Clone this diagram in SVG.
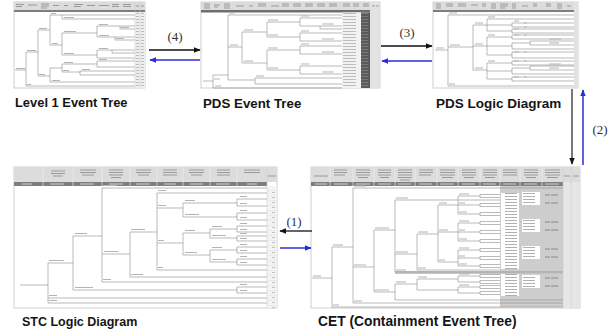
<svg xmlns="http://www.w3.org/2000/svg" width="613" height="332" viewBox="0 0 613 332">
<style>
.pf{fill:#fff;stroke:#c4c4c4;stroke-width:0.8}
.hd{fill:#dcdcdc}
.db{fill:#7e7e7e}
.tr{fill:none;stroke:#8c8c8c;stroke-width:0.6}
.tx{fill:none;stroke:#b4b4b4;stroke-width:1.2}
.ht{fill:none;stroke:#9a9a9a;stroke-width:1}
.bt{fill:none;stroke:#cfcfcf;stroke-width:1}
.sep{fill:none;stroke:#f4f4f4;stroke-width:0.6}
.gl{fill:none;stroke:#c8c8c8;stroke-width:0.5}
.cap{font-family:"Liberation Sans",Arial,sans-serif;font-weight:bold;fill:#151515}
.num{font-family:"Liberation Serif","Times New Roman",serif;font-size:13px;fill:#333;text-anchor:middle}
.ak{stroke:#111;stroke-width:1.3;fill:none}
.ag{stroke:#555;stroke-width:1.6;fill:none}
.ab{stroke:#2b2bd6;stroke-width:1.5;fill:none}
</style>
<defs>
<marker id="hk" viewBox="0 0 10 10" refX="9" refY="5" markerUnits="userSpaceOnUse" markerWidth="7" markerHeight="7" orient="auto"><path d="M0 1L10 5L0 9z" fill="#111"/></marker>
<marker id="hb" viewBox="0 0 10 10" refX="9" refY="5" markerUnits="userSpaceOnUse" markerWidth="7" markerHeight="7" orient="auto"><path d="M0 1L10 5L0 9z" fill="#2b2bd6"/></marker>
<pattern id="rowsA" width="10" height="3" patternUnits="userSpaceOnUse"><path d="M1 1.5h3M6 1.5h3" stroke="#aaa" stroke-width="0.7"/></pattern>
<pattern id="rowsB" width="19" height="3" patternUnits="userSpaceOnUse"><path d="M1 1.5h13" stroke="#b0b0b0" stroke-width="0.8"/></pattern>
<pattern id="rowsD" width="9" height="3" patternUnits="userSpaceOnUse"><path d="M1 1.5h7" stroke="#808080" stroke-width="0.8"/></pattern>
<pattern id="rowsS" width="10" height="5" patternUnits="userSpaceOnUse"><path d="M0 0H10" stroke="#cfcfcf" stroke-width="0.5"/><path d="M2 2.5h3" stroke="#aaa" stroke-width="0.7"/></pattern>
<pattern id="rowsC" width="18" height="3" patternUnits="userSpaceOnUse"><path d="M1 1.5h12" stroke="#9d9d9d" stroke-width="0.8"/></pattern>
</defs>

<g id="level1-event-tree">
<rect class="pf" x="14" y="2" width="131" height="86"/>
<rect class="hd" x="14" y="2" width="131" height="8"/>
<rect class="db" x="14" y="10" width="131" height="2"/>
<rect x="135" y="12" width="10" height="76" fill="#efefef"/>
<rect x="135" y="13" width="10" height="74" fill="url(#rowsA)"/>
<path class="gl" d="M135 2V88M140 2V88"/>
<path class="ht" d="M16 4.5h8M16 6.5h6M28 5h9M41 4h8M41 6h8M41 8h6M53 5.5h6M64 5.5h4M74 4.5h9M74 6.5h7M87 5.5h8M99 5.5h10M112 4.5h7M112 6.5h7M123 4.5h8M123 6.5h8M136 6h3M141 6h3"/>
<path class="tr" d="M15 70H26M26 52V86M26 86H135M26 52H38M38 30V76M38 30H50M50 15V45M50 15H135M62 15V19M62 19H135M50 45H62M62 33V55M62 33H97M97 26V37M97 26H135M120 26V29M120 29H135M97 37H135M115 37V40M115 40H135M62 55H97M97 50V58M97 50H135M97 58H135M112 50V53M112 53H135M38 76H50M50 68V82M50 82H135M50 68H62M62 64V72M62 64H97M97 61V67M97 61H135M97 67H135M62 72H80M80 71V75M80 71H135M80 75H135"/>
<path class="tx" d="M16 68.5h9M51 13.5h5M64 17.5h10M52 43.5h6M64 31.5h12M99 24.5h9M99 35.5h10M64 53.5h10M99 48.5h9M39 74.5h6M27 84.5h4M64 62.5h9M99 59.5h8M82 69.5h8M52 80.5h8M27 50.5h9M39 28.5h8M63 70.5h6M121 27.5h8M116 38.5h8"/>
<text class="cap" x="15" y="107" font-size="12.9">Level 1 Event Tree</text>
</g>

<g id="pds-event-tree">
<rect class="pf" x="201" y="2" width="179" height="86"/>
<rect class="hd" x="201" y="2" width="179" height="8"/>
<rect x="201" y="10" width="179" height="2.5" fill="#6e6e6e"/>
<rect x="342" y="12.5" width="19" height="75.5" fill="#f2f2f2"/>
<rect x="342" y="13" width="19" height="75" fill="url(#rowsB)"/>
<rect x="361" y="12.5" width="9" height="75.5" fill="#5a5a5a"/>
<rect x="361" y="13" width="9" height="75" fill="url(#rowsD)"/>
<rect x="370" y="2" width="10" height="86" fill="#e2e2e2"/>
<path class="ht" d="M204 4h6M204 6h6M204 8h6M214 5h6M214 7h4M224 4h6M224 6h6M224 8h6M236 6h8M249 6h4M258 4h8M258 6h8M271 6h8M282 4h7M282 6h7M293 4h8M293 6h8M305 4h8M305 6h8M317 4h8M317 6h8M329 4h8M329 6h8M343 4h7M343 6h7M353 4h6M353 6h6M363 4h6M363 6h6M372 6h3M376 6h3"/>
<path class="tr" d="M203 81H213M213 75V88M213 88H342M213 75H228M228 15V80M228 15H342M228 47H242M242 32V63M242 32H267M267 22V37M267 22H300M300 18V26M300 18H342M300 26H342M320 26V29M320 29H342M267 37H300M300 33V41M300 33H342M300 41H342M242 63H267M267 50V70M267 50H300M300 46V54M300 46H342M300 54H342M267 70H300M300 66V74M300 66H342M300 74H342M228 80H255M255 78V84M255 78H342M255 84H342"/>
<path class="tx" d="M214 79h6M229 13h6M230 45h8M244 30h9M244 61h9M268 20h10M268 35h10M268 48h10M268 68h10M301 16h8M301 31h8M301 44h8M301 64h8M322 24h12M322 39h12M322 52h12M322 72h12M256 76h8M215 86h6"/>
<text class="cap" x="203" y="107.5" font-size="13.3">PDS Event Tree</text>
</g>

<g id="pds-logic-diagram">
<rect class="pf" x="433" y="2" width="145" height="86"/>
<rect class="hd" x="433" y="2" width="145" height="8"/>
<rect class="db" x="433" y="10" width="145" height="2"/>
<rect x="574" y="2" width="4" height="86" fill="#e2e2e2"/>
<path class="ht" d="M436 4h5M436 6h5M436 8h5M446 4h7M446 6h7M458 4h8M458 6h8M471 5h7M482 4h4M482 6h4M491 4h5M491 6h5M491 8h5M500 4h8M500 6h8M500 8h5M512 4h4M512 6h4M512 8h4M522 6h6M533 4h4M533 6h4M546 4h5M546 6h5M557 4h5M557 6h5M557 8h5M567 6h4"/>
<path class="tr" d="M435 50H448M448 15V86M448 15H574M448 86H574M448 47H473M473 25V70M473 25H487M487 19V31M487 19H574M487 25H512M487 31H512M512 23V27M512 23H574M512 27H574M512 29V33M512 29H574M512 33H574M473 46H487M487 37V55M487 37H512M512 35V39M512 35H574M512 39H574M487 46H512M512 43V49M512 43H530M530 41V45M530 41H574M530 45H574M512 49H574M487 55H512M512 52V58M512 52H574M512 58H574M473 70H487M487 63V79M487 63H512M512 61V65M512 61H574M512 65H574M487 71H512M512 68V74M512 68H530M530 66V70M530 66H574M530 70H574M512 74H574M487 79H512M512 77V81M512 77H574M512 81H574"/>
<path class="tx" d="M436 48h8M449 13h8M450 45h10M475 23h8M475 44h8M475 68h8M488 17h7M488 35h7M488 61h7M514 21h5M514 29h5M514 35h5M514 52h5M514 61h5M514 77h5M549 39h12M549 43h10M549 64h12M549 68h10M449 84h6M524 23h3M524 27h3M524 35h3M524 52h3M524 61h3M524 77h3"/>
<text class="cap" x="436" y="108" font-size="13.5">PDS Logic Diagram</text>
</g>

<g id="stc-logic-diagram">
<rect class="pf" x="14" y="167" width="263" height="141"/>
<rect class="hd" x="14" y="167" width="263" height="15"/>
<rect class="db" x="14" y="182" width="253" height="4"/>
<rect x="267" y="186" width="10" height="122" fill="#f3f3f3"/>
<rect x="267" y="188" width="10" height="120" fill="url(#rowsS)"/>
<path class="sep" d="M43 167V186M73 167V186M102 167V186M130 167V186M157 167V186M183 167V186M210 167V186M237 167V186"/>
<path class="gl" d="M267 167V308"/>
<path class="ht" d="M51 171h14M51 173.5h14M53 176h10M80 170h16M80 172.5h16M82 175h12M109 170h14M109 172.5h14M109 175h14M111 177.5h10M136 170h15M136 172.5h15M138 175h11M163 170h14M163 172.5h14M163 175h14M189 170h15M189 172.5h15M191 175h11M217 170h13M217 172.5h13M217 175h13M244 170h16M244 172.5h16M268 176h8"/>
<path class="bt" d="M22 184h10M50 184h14M80 184h14M109 184h14M136 184h14M164 184h12M190 184h13M216 184h14M247 184h10"/>
<path class="tr" d="M20 285H48M48 263V303M48 298H267M48 303H267M48 263H73M73 236V290M73 290H237M237 287V293M237 287H267M237 293H267M73 236H102M102 188V282M102 188H267M102 282H267M102 254H130M130 232V277M130 277H267M130 232H157M157 193V270M157 193H267M157 270H267M157 208H183M183 203V217M183 203H237M237 199V206M237 199H267M237 206H267M183 217H237M237 213V220M237 213H267M237 220H267M157 243H183M183 233V255M183 233H210M210 229V238M210 229H237M237 226V232M237 226H267M237 232H267M210 238H237M237 236V241M237 236H267M237 241H267M183 255H210M210 250V262M210 250H237M237 247V253M237 247H267M237 253H267M210 262H237M237 259V265M237 259H267M237 265H267"/>
<path class="tx" d="M49 260.5h15M75 233.5h12M75 287.5h18M49 295.5h8M49 300.5h8M103 185.5h14M104 251.5h14M103 279.5h8M131 229.5h14M131 274.5h12M158 190.5h8M158 205.5h8M158 240.5h6M158 267.5h5M185 200.5h10M185 214.5h14M185 230.5h10M185 252.5h12M212 226.5h10M212 235.5h14M212 247.5h10M212 259.5h14M240 196.5h7M240 203.5h7M240 210.5h7M240 217.5h7M240 223.5h7M240 229.5h7M240 233.5h7M240 238.5h7M240 244.5h7M240 250.5h7M240 256.5h7M240 262.5h7M240 284.5h7M240 290.5h7"/>
<text class="cap" x="22" y="326" font-size="12.5">STC Logic Diagram</text>
</g>

<g id="cet">
<rect class="pf" x="311" y="167" width="269" height="141"/>
<rect class="hd" x="311" y="167" width="269" height="15"/>
<rect class="db" x="311" y="182" width="252" height="4"/>
<rect x="500" y="186" width="63" height="121" fill="#cdcdcd"/>
<rect x="563" y="182" width="17" height="126" fill="#e6e6e6"/>
<rect x="395" y="271" width="168" height="3" fill="#c6c6c6"/>
<path class="sep" d="M330 167V186M353 167V186M374 167V186M395 167V186M415 167V186M437 167V186M458 167V186M480 167V186M500 167V186M520 167V186M542 167V186"/>
<path class="gl" d="M563 167V308M571 167V308"/>
<path class="ht" d="M314 176h14M334 170h13M334 172.5h13M334 175h11M356 170h14M356 172.5h14M356 175h14M358 177.5h10M378 170h13M378 172.5h13M378 175h13M380 177.5h9M398 170h14M398 172.5h14M398 175h14M398 177.5h14M400 180h10M419 170h14M419 172.5h14M419 175h12M440 170h15M440 172.5h15M440 175h15M442 177.5h11M462 170h14M462 172.5h14M462 175h14M464 177.5h10M483 170h14M483 172.5h14M483 175h14M485 177.5h10M503 170h14M503 172.5h14M503 175h14M524 170h14M524 172.5h14M524 175h14M526 177.5h10M545 170h15M545 172.5h15M545 175h15M547 177.5h11M564 176h6M573 176h6"/>
<path class="bt" d="M315 184h12M334 184h14M356 184h14M378 184h13M398 184h13M419 184h13M440 184h14M462 184h13M483 184h13M503 184h13M524 184h13M545 184h14"/>
<rect x="501" y="193" width="18" height="76" fill="#fff"/>
<rect x="501" y="193" width="18" height="76" fill="url(#rowsC)"/>
<rect x="501" y="274" width="18" height="22" fill="#fff"/>
<rect x="501" y="274" width="18" height="22" fill="url(#rowsC)"/>
<rect x="522" y="192" width="18" height="13" fill="#fff"/>
<rect x="522" y="219" width="18" height="13" fill="#fff"/>
<rect x="522" y="246" width="18" height="13" fill="#fff"/>
<rect x="522" y="275" width="18" height="13" fill="#fff"/>
<rect x="522" y="192" width="18" height="13" fill="url(#rowsC)"/>
<rect x="522" y="219" width="18" height="13" fill="url(#rowsC)"/>
<rect x="522" y="246" width="18" height="13" fill="url(#rowsC)"/>
<rect x="522" y="275" width="18" height="13" fill="url(#rowsC)"/>
<path d="M545 195h5M551 195h7M545 203h5M551 203h7M545 222h5M551 222h7M545 230h5M551 230h7M545 249h5M551 249h7M545 257h5M551 257h7M545 278h5M551 278h7M545 286h5M551 286h7" stroke="#8a8a8a" stroke-width="1.1" fill="none"/>
<path class="tr" d="M312 278H332M332 247V307M332 247H353M332 307H563M353 188V303M353 188H563M353 267H374M353 303H563M374 230V292M374 230H395M374 292H395M395 200V272M395 200H500M395 254H417M395 272H563M395 284V300M395 284H417M395 300H563M417 234V270M417 234H438M417 270H500M438 205V262M438 205H458M438 232H458M438 262H458M458 196V214M458 196H480M458 205H480M458 214H480M458 223V241M458 223H480M458 232H480M458 241H480M458 250V266M458 250H480M458 258H480M458 266H480M417 279V290M417 279H458M417 290H458M458 276V282M458 276H480M458 282H480M458 287V293M458 287H480M458 293H480M480 194.5V197.5M480 194.5H500M480 197.5H500M480 203.5V206.5M480 203.5H500M480 206.5H500M480 212.5V215.5M480 212.5H500M480 215.5H500M480 221.5V224.5M480 221.5H500M480 224.5H500M480 230.5V233.5M480 230.5H500M480 233.5H500M480 239.5V242.5M480 239.5H500M480 242.5H500M480 248.5V251.5M480 248.5H500M480 251.5H500M480 256.5V259.5M480 256.5H500M480 259.5H500M480 264.5V267.5M480 264.5H500M480 267.5H500M480 274.5V277.5M480 274.5H500M480 277.5H500M480 280.5V283.5M480 280.5H500M480 283.5H500M480 285.5V288.5M480 285.5H500M480 288.5H500M480 291.5V294.5M480 291.5H500M480 294.5H500"/>
<path class="tx" d="M333 245h10M313 276h8M354 186h12M354 265h12M354 301h8M333 305h6M375 228h14M375 290h14M396 198h12M396 252h12M396 270h10M396 282h10M418 232h10M418 268h8M418 277h9M439 203h8M439 230h9M439 260h6M459 194h10M459 203h6M459 212h8M459 221h10M459 230h6M459 239h8M459 248h10M459 256h6M459 264h8M459 274h10M459 285h10"/>
<text class="cap" x="318" y="326" font-size="13.8">CET (Containment Event Tree)</text>
</g>

<g id="connectors">
<line class="ak" x1="149" y1="50" x2="200" y2="50" marker-end="url(#hk)"/>
<line class="ab" x1="200" y1="60" x2="150" y2="60" marker-end="url(#hb)"/>
<text class="num" x="175" y="41">(4)</text>
<line class="ak" x1="381" y1="46" x2="432" y2="46" marker-end="url(#hk)"/>
<line class="ab" x1="432" y1="61" x2="382" y2="61" marker-end="url(#hb)"/>
<text class="num" x="407" y="37">(3)</text>
<line class="ag" x1="572" y1="89" x2="572" y2="164" marker-end="url(#hk)"/>
<line class="ab" x1="583" y1="165" x2="583" y2="90" marker-end="url(#hb)"/>
<text class="num" x="600" y="134">(2)</text>
<line class="ak" x1="312" y1="231" x2="280" y2="231" marker-end="url(#hk)"/>
<line class="ab" x1="280" y1="248" x2="311" y2="248" marker-end="url(#hb)"/>
<text class="num" x="294" y="226">(1)</text>
</g>
</svg>
